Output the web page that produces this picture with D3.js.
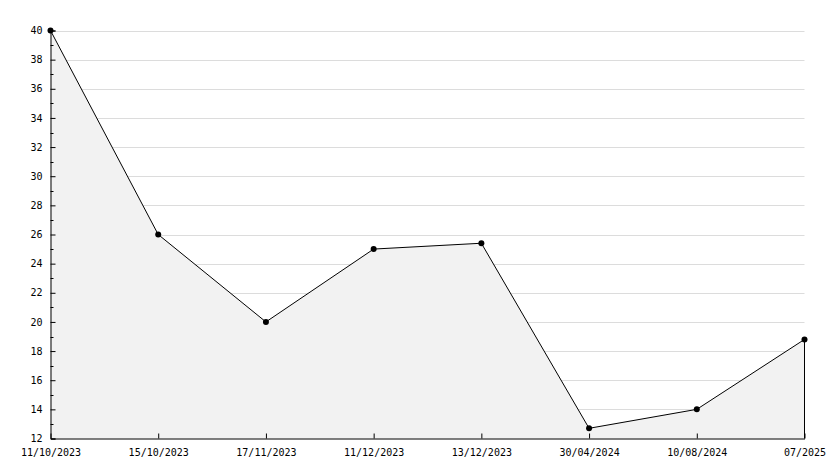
<!DOCTYPE html>
<html><head><meta charset="utf-8">
<script src="https://cdn.jsdelivr.net/npm/d3@7"></script>
<style>body{margin:0;background:#fff}svg{display:block}text{font-family:"DejaVu Sans Mono",monospace;font-size:10px;fill:#000}</style>
</head><body>
<script>
const categories = ["11/10/2023","15/10/2023","17/11/2023","11/12/2023","13/12/2023","30/04/2024","10/08/2024","07/2025"];
const values = [40, 26, 20, 25, 25.4, 12.7, 14, 18.8];
const yTicks = [12,14,16,18,20,22,24,26,28,30,32,34,36,38,40];
const yMinor = [13,15,17,19,21,23,25,27,29,31,33,35,37,39];

const W=834,H=468, L=50.5, R=804.5, T=30.5, B=438.5;
const svg=d3.select("body").append("svg").attr("width",W).attr("height",H);
const x=d3.scalePoint().domain(categories).range([L,R]);
const y=d3.scaleLinear().domain([12,40]).range([B,T]);

// grid
svg.append("g").selectAll("line").data(yTicks.slice(1)).join("line")
 .attr("x1",L).attr("x2",R).attr("y1",d=>Math.round(y(d))+0.5).attr("y2",d=>Math.round(y(d))+0.5)
 .attr("stroke","#dcdcdc").attr("stroke-width",1);

const data=categories.map((c,i)=>({c,v:values[i]}));
// area
svg.append("path").datum(data)
 .attr("d",d3.area().x(d=>x(d.c)).y0(B).y1(d=>y(d.v)))
 .attr("fill","#f2f2f2");
// right edge
svg.append("line").attr("x1",R).attr("x2",R).attr("y1",y(values[values.length-1])).attr("y2",B).attr("stroke","#000");
// line
svg.append("path").datum(data)
 .attr("d",d3.line().x(d=>x(d.c)).y(d=>y(d.v)))
 .attr("fill","none").attr("stroke","#000").attr("stroke-width",1);

// y axis
const ya=svg.append("g").attr("transform",`translate(${L},0)`)
 .call(d3.axisRight(y).tickValues(yTicks).tickSize(5).tickFormat(d3.format("d")));
ya.select(".domain").attr("stroke","#000");
ya.selectAll(".tick line").attr("stroke","#000");
ya.selectAll(".tick text").attr("x",-8).attr("text-anchor","end").attr("font-family",null).attr("font-size",null);
svg.append("g").selectAll("line").data(yMinor).join("line")
 .attr("x1",L).attr("x2",L+3).attr("y1",d=>Math.round(y(d))+0.5).attr("y2",d=>Math.round(y(d))+0.5).attr("stroke","#000");

// x axis
const xa=svg.append("g").attr("transform",`translate(0,${B})`)
 .call(d3.axisTop(x).tickSize(5).tickSizeOuter(0));
xa.select(".domain").attr("stroke","#000");
xa.selectAll(".tick line").attr("stroke","#000");
xa.selectAll(".tick text").attr("y",10).attr("dy","0.71em").attr("font-family",null).attr("font-size",null);

// markers
svg.append("g").selectAll("circle").data(data).join("circle")
 .attr("cx",d=>x(d.c)).attr("cy",d=>y(d.v)).attr("r",3).attr("fill","#000");
</script>
</body></html>
